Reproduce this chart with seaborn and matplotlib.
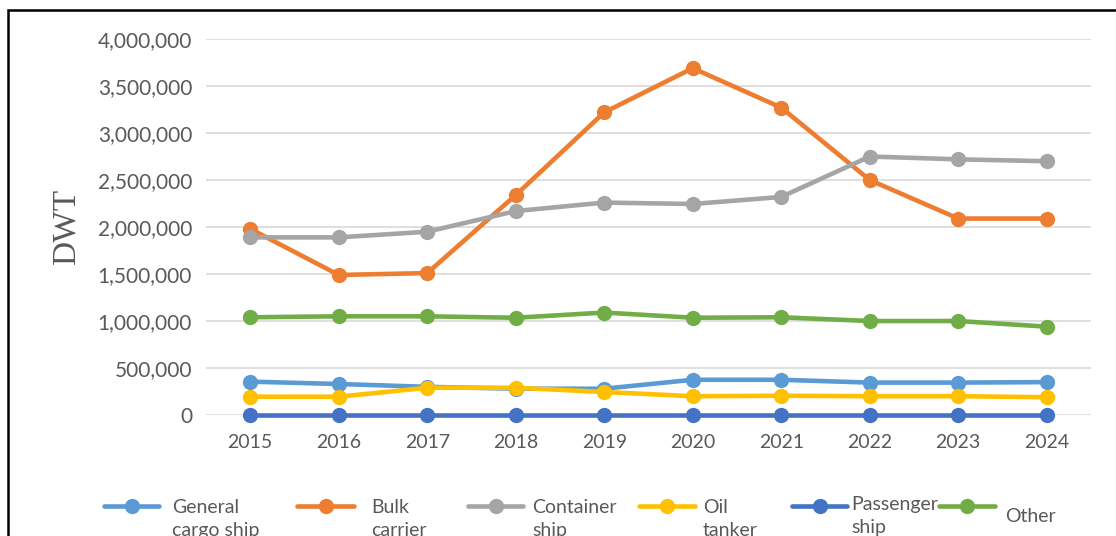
import matplotlib.pyplot as plt
import matplotlib.ticker as mticker
from matplotlib.lines import Line2D
from matplotlib.patches import Rectangle
import pandas as pd
import seaborn as sns

# Data
years = [2015, 2016, 2017, 2018, 2019, 2020, 2021, 2022, 2023, 2024]
general_cargo = [355000, 330000, 300000, 280000, 280000, 375000, 375000, 345000, 345000, 350000]
bulk_carrier = [1980000, 1490000, 1510000, 2340000, 3220000, 3690000, 3270000, 2500000, 2090000, 2090000]
container_ship = [1890000, 1890000, 1950000, 2170000, 2260000, 2245000, 2320000, 2750000, 2720000, 2700000]
oil_tanker = [195000, 195000, 290000, 290000, 245000, 200000, 205000, 200000, 200000, 190000]
passenger_ship = [5000, 5000, 5000, 5000, 5000, 5000, 5000, 5000, 5000, 5000]
other = [1040000, 1050000, 1050000, 1035000, 1090000, 1035000, 1040000, 1000000, 1000000, 940000]

series_names = ["General cargo ship", "Bulk carrier", "Container ship",
                "Oil tanker", "Passenger ship", "Other"]
legend_labels = ["General\ncargo ship", "Bulk\ncarrier", "Container\nship",
                 "Oil\ntanker", "Passenger\nship", "Other"]
colors = ["#5B9BD5", "#ED7D31", "#A5A5A5", "#FFC000", "#4472C4", "#70AD47"]

values = [general_cargo, bulk_carrier, container_ship, oil_tanker, passenger_ship, other]
df = pd.DataFrame({
    "Year": years * len(series_names),
    "DWT": [v for s in values for v in s],
    "Type": [n for n in series_names for _ in years],
})

sns.set_style("white")
plt.rcParams['font.family'] = ['Lato', 'DejaVu Sans']
text_grey = "#595959"
W, H = 1116, 536

fig = plt.figure(figsize=(W / 100, H / 100), dpi=100)
ax = fig.add_axes([0.1846, 0.2257, 0.793, 0.7015])

sns.lineplot(data=df, x="Year", y="DWT", hue="Type", hue_order=series_names,
             palette=colors, marker="o", markersize=11, markeredgewidth=0,
             linewidth=3.3, ax=ax, legend=False, zorder=3)
for ln in ax.lines:
    ln.set_clip_on(False)

ax.set_xlim(2014.5, 2024.5)
ax.set_ylim(0, 4000000)
ax.set_yticks(range(0, 4000001, 500000))
ax.set_xticks(years)
ax.yaxis.set_major_formatter(mticker.FuncFormatter(lambda v, p: f"{int(v):,}"))
ax.grid(axis="y", color="#d9d9d9", linewidth=1.2, zorder=0)
ax.grid(axis="x", visible=False)
for s in ax.spines.values():
    s.set_visible(False)
ax.tick_params(axis="both", length=0, colors=text_grey)
ax.tick_params(axis="y", labelsize=15, pad=10)
ax.tick_params(axis="x", labelsize=14, pad=14)
ax.set_xlabel("")
ax.set_ylabel("DWT", family="Liberation Serif", fontsize=24, color=text_grey, labelpad=12)

# Excel-style legend at the bottom, laid out by hand (pixels), cut off by the frame edge
legend_layout = [  # handle start, handle end, text x, text top
    (104, 159, 172, 499),
    (297, 354, 371, 499),
    (468, 523, 532, 499),
    (639, 695, 703, 499),
    (792, 847, 851, 496),
    (939, 995, 1005, 508),
]
handle_y = 506
for (x0, x1, tx, ty), lab, c in zip(legend_layout, legend_labels, colors):
    fig.add_artist(Line2D([x0 / W, (x0 + x1) / 2 / W, x1 / W], [1 - handle_y / H] * 3,
                          transform=fig.transFigure, color=c, linewidth=3.3,
                          marker="o", markersize=11, markeredgewidth=0, markevery=[1]))
    fig.text(tx / W, 1 - ty / H, lab, fontsize=14, color=text_grey,
             va="top", ha="left", linespacing=1.45)

# frame around the chart (only left and top edges visible)
fig.patches.append(Rectangle((8 / W, -0.1), 1.2, 1 - 10 / H + 0.1,
                             transform=fig.transFigure, fill=False,
                             edgecolor="black", linewidth=1.8))

fig.savefig("out.png", dpi=100)
